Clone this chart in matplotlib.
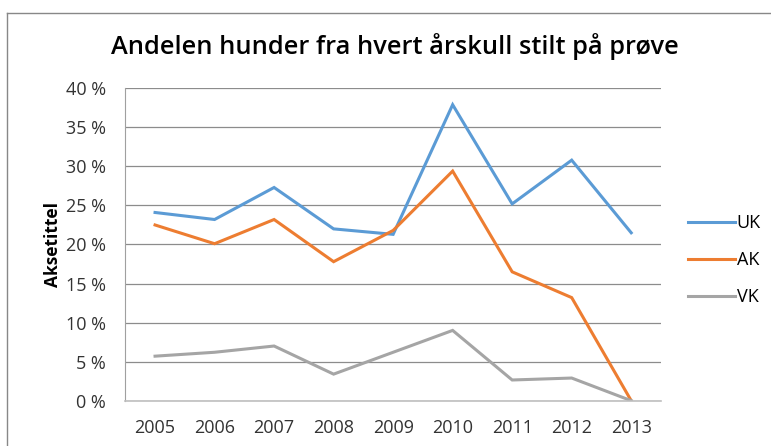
import matplotlib
matplotlib.use("Agg")
import matplotlib.pyplot as plt
import matplotlib.ticker as ticker
from matplotlib.lines import Line2D

# data (percent)
years = ["2005", "2006", "2007", "2008", "2009", "2010", "2011", "2012", "2013"]
uk = [24.1, 23.2, 27.3, 22.0, 21.3, 37.9, 25.2, 30.8, 21.5]
ak = [22.5, 20.1, 23.2, 17.8, 21.8, 29.4, 16.5, 13.2, 0.0]
vk = [5.7, 6.2, 7.0, 3.4, 6.2, 9.0, 2.65, 2.9, 0.0]
yticks = [0, 5, 10, 15, 20, 25, 30, 35, 40]

plt.rcParams['font.family'] = ['Open Sans', 'DejaVu Sans']

fig = plt.figure(figsize=(7.71, 4.46), dpi=100)
# outer chart border (bottom is cut off)
bx, by = 6.5 / 771, 1 - 12.5 / 446
fig.add_artist(Line2D([bx, bx], [0, by], transform=fig.transFigure, color="#888888", linewidth=1.0))
fig.add_artist(Line2D([bx, 1], [by, by], transform=fig.transFigure, color="#888888", linewidth=1.0))

ax = fig.add_axes([0.1625, 0.1016, 0.8573 - 0.1625, 0.802 - 0.1016])
x = range(len(years))
ax.plot(x, uk, color="#5B9BD5", linewidth=2.2, label="UK", solid_joinstyle="miter")
ax.plot(x, ak, color="#ED7D31", linewidth=2.2, label="AK", solid_joinstyle="miter")
ax.plot(x, vk, color="#A5A5A5", linewidth=2.2, label="VK", solid_joinstyle="miter")

ax.set_xlim(-0.5, len(years) - 0.5)
ax.set_ylim(0, 40)
ax.set_yticks(yticks)
ax.yaxis.set_major_formatter(ticker.FuncFormatter(lambda v, p: "%d %%" % v))
ax.set_xticks(list(x))
ax.set_xticklabels(years)
ax.grid(axis="y", color="#8C8C8C", linewidth=0.9)
ax.set_axisbelow(True)
ax.tick_params(length=0, labelsize=13, colors="#333333")
ax.tick_params(axis="y", pad=14)
ax.tick_params(axis="x", pad=13)
for s in ["top", "right"]:
    ax.spines[s].set_visible(False)
ax.spines["left"].set_color("#A0A0A0")
ax.spines["bottom"].set_color("#BFBFBF")
ax.spines["bottom"].set_linewidth(1.2)

ax.set_ylabel("Aksetittel", fontsize=12.5, fontweight="bold", labelpad=3)
fig.text(0.512, 1 - 47/446, "Andelen hunder fra hvert årskull stilt på prøve",
         ha="center", va="center", fontsize=18.3, fontweight="semibold")

leg = ax.legend(loc="center left", bbox_to_anchor=(1.02, 0.45), frameon=False,
                fontsize=13, handlelength=2.6, handletextpad=0.1, labelspacing=1.05)

fig.savefig("out.png", dpi=100)
